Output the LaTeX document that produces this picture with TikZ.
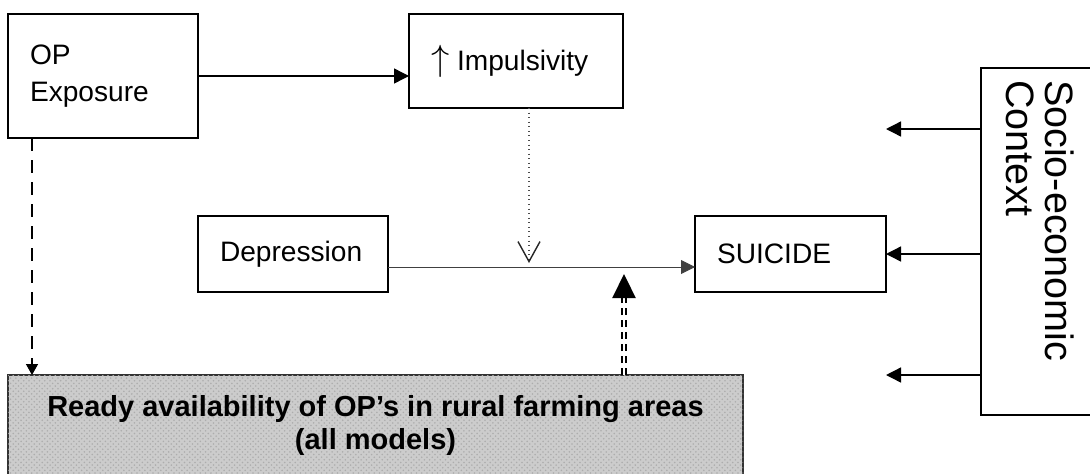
\documentclass[tikz,border=0pt]{standalone}
\usepackage{fontspec}
\setmainfont{Liberation Sans}
\usepackage{tikz}
\usetikzlibrary{arrows.meta,positioning,patterns}

\begin{document}
\begin{tikzpicture}[
				font=\fontsize{16}{21.5}\selectfont,
				box/.style={
					rectangle, draw=black, line width=0.8pt,
					outer sep=0pt, inner xsep=0.44cm, inner ysep=0pt,
					align=left
				},
				availbox/.style={
					rectangle, draw=black!80, line width=0.8pt,
					fill=black!20, outer sep=0pt,
					postaction={pattern=crosshatch dots, pattern color=black!32},
					minimum width=14.7cm, minimum height=2.02cm,
					align=center, font=\fontsize{16.5}{19}\selectfont\bfseries
				},
				ctxbox/.style={
					rectangle, draw=black, line width=0.8pt,
					outer sep=0pt, rotate=-90,
					minimum width=6.94cm, minimum height=2.36cm,
					inner xsep=0.24cm, text width=6.46cm, align=left,
					font=\fontsize{22.5}{22.4}\selectfont
				},
				arr/.style={-{Triangle[length=0.3cm,width=0.3cm]}, line width=0.8pt},
				tarr/.style={-{Triangle[length=0.28cm,width=0.28cm]}, line width=0.5pt, black!75},
				darr/.style={-{Triangle[length=0.22cm,width=0.24cm]}, line width=0.8pt,
					dash pattern=on 0.26cm off 0.18cm},
				dotarr/.style={-{Straight Barb[length=0.4cm,width=0.44cm,line width=0.8pt,color=black!85]},
					line width=0.6pt, black!70, dotted},
				ddarr/.style={-{Triangle[length=0.48cm,width=0.46cm]}, line width=0.045cm,
					double, double distance=0.045cm, dash pattern=on 0.15cm off 0.09cm}
				]
				\useasboundingbox (0,0) rectangle (21.8,-9.46);
				
				%% ─── BOXES ───────────────────────────────────────────────
				\node[box, text width=2.92cm, minimum height=2.48cm, anchor=north west] (ope)
				at (0.16,-0.28) {OP\\Exposure};
				\node[box, text width=3.4cm, minimum height=1.88cm,
				right=4.22cm of ope.north east, anchor=north west] (imp)
				{{\fontsize{21}{21}\selectfont$\uparrow$}\;Impulsivity};
				\node[box, text width=2.92cm, minimum height=1.52cm,
				below=1.56cm of ope.south east, anchor=north west] (dep) {Depression};
				\node[box, text width=2.94cm, minimum height=1.52cm,
				right=6.14cm of dep] (sui) {SUICIDE};
				\node[availbox, below=4.74cm of ope.south west, anchor=north west] (avail)
				{Ready availability of OP’s in rural farming areas\\(all models)};
				\node[ctxbox] (ctx) at (20.8,-4.83) {Socio-economic\\Context};
				
				%% ─── PATHS ───────────────────────────────────────────────
				\coordinate (dl) at ([yshift=-0.26cm]dep.east);
				\coordinate (ibot) at ([xshift=0.26cm]imp.south);
				\coordinate (apt) at ([xshift=4.97cm]avail.north);
				\coordinate (ctxtop) at ([yshift=-1.22cm]ctx.south west);
				
				\draw[arr] (ope) -- (ope -| imp.west);
				\draw[darr] ([xshift=0.48cm]ope.south west) -- ([xshift=0.48cm]avail.north west);
				\draw[tarr] (dl) -- (dl -| sui.west);
				\draw[dotarr, shorten >=0.08cm] (ibot) -- (ibot |- dl);
				\draw[ddarr, shorten >=0.14cm] (apt) -- (apt |- dl);
				
				\draw[arr] (ctxtop) -- (ctxtop -| sui.east);
				\draw[arr] (ctx.south |- sui.east) -- (sui.east);
				\draw[arr] (ctx.south |- avail.north) -- (sui.east |- avail.north);
				
\end{tikzpicture}
\end{document}
